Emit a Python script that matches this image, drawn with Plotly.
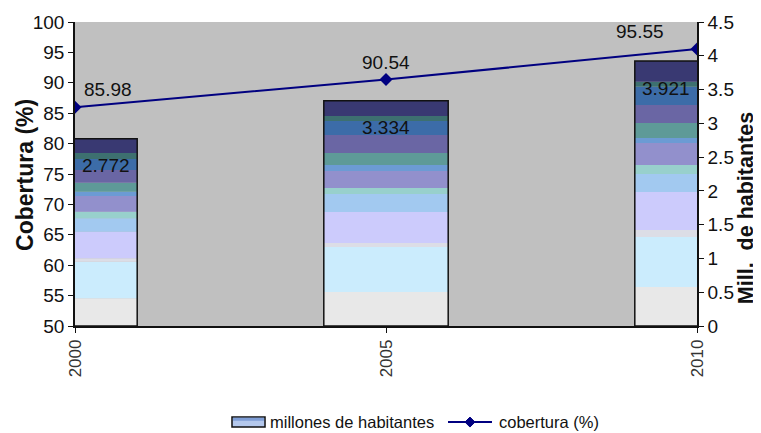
import numpy as np
import plotly.graph_objects as go

# ---------------- data ----------------
years = [2000, 2005, 2010]
cobertura = [85.98, 90.54, 95.55]
habitantes_total = [2.772, 3.334, 3.921]

# stacked bands of each bar (bottom -> top), millions
seg_2000 = [0.410, 0.542, 0.050, 0.394, 0.198, 0.098, 0.232, 0.064, 0.133, 0.188, 0.163, 0.089, 0.211]
seg_2005 = [0.503, 0.666, 0.059, 0.459, 0.266, 0.089, 0.252, 0.089, 0.178, 0.266, 0.207, 0.074, 0.226]
seg_2010 = [0.577, 0.740, 0.104, 0.562, 0.266, 0.133, 0.326, 0.074, 0.222, 0.266, 0.271, 0.074, 0.306]

seg_colors = ["#e8e8e8", "#cbecfd", "#dcdde6", "#cccbfc", "#a2c9f0", "#98d0cc", "#9290cc",
              "#6c9bd4", "#5e9a98", "#6a66a4", "#3c6ca8", "#3d7070", "#393972"]

legend_names = ["millones de habitantes", "cobertura (%)"]
title_left = "Cobertura (%)"
title_right = "Mill.  de habitantes"

FONT = "Liberation Sans, Arial, sans-serif"
BAR_W = 2.0
X_RANGE = [2000, 2010]
LINE_COLOR = "#000080"

segs = np.array([seg_2000, seg_2005, seg_2010])  # shape (years, bands)
bases = np.cumsum(segs, axis=1) - segs

fig = go.Figure()

for k, col in enumerate(seg_colors):
    fig.add_trace(go.Bar(
        x=years, y=segs[:, k], base=bases[:, k], width=BAR_W,
        marker=dict(color=col, line=dict(width=0)),
        showlegend=False, hoverinfo="skip", yaxis="y", name=legend_names[0]))

# outline of whole bar
fig.add_trace(go.Bar(
    x=years, y=habitantes_total, base=[0] * len(years), width=BAR_W,
    marker=dict(color="rgba(0,0,0,0)", line=dict(color="#111111", width=1.5)),
    showlegend=False, name=legend_names[0], yaxis="y"))

fig.add_trace(go.Scatter(
    x=years, y=cobertura, name=legend_names[1], mode="lines+markers",
    line=dict(color=LINE_COLOR, width=2),
    marker=dict(symbol="diamond", size=10, color=LINE_COLOR),
    showlegend=False, yaxis="y2"))

annotations = []
# bar total labels, centred in the visible part of each bar
for x, t in zip(years, habitantes_total):
    lo = max(x - BAR_W / 2, X_RANGE[0])
    hi = min(x + BAR_W / 2, X_RANGE[1])
    annotations.append(dict(
        x=(lo + hi) / 2, y=t, xref="x", yref="y", text=f"{t:.3f}",
        showarrow=False, yshift=-27, yanchor="middle",
        font=dict(family=FONT, size=19, color="#111111")))

# line value labels
n = len(years)
for i, (x, v) in enumerate(zip(years, cobertura)):
    if i == 0:
        xa, xs = "left", 7
    elif i == n - 1:
        xa, xs = "right", -31
    else:
        xa, xs = "center", 0
    annotations.append(dict(
        x=x, y=v, xref="x", yref="y2", text=f"{v:.2f}", showarrow=False,
        xanchor=xa, xshift=xs, yanchor="bottom", yshift=5,
        font=dict(family=FONT, size=19, color="#111111")))

# axis titles
annotations += [
    dict(x=-0.0804, y=0.497, xref="paper", yref="paper", text=f"<b>{title_left}</b>",
         textangle=-90, showarrow=False, xanchor="center", yanchor="middle",
         font=dict(family=FONT, size=23, color="#111111")),
    dict(x=1.0790, y=0.388, xref="paper", yref="paper", text=f"<b>{title_right}</b>",
         textangle=-90, showarrow=False, xanchor="center", yanchor="middle",
         font=dict(family=FONT, size=21.5, color="#111111")),
]

# ---- legend (drawn below the plot area) ----
LEG_Y = -0.316
annotations += [
    dict(x=0.3103, y=LEG_Y, xref="paper", yref="paper", text=legend_names[0],
         showarrow=False, xanchor="left", yanchor="middle",
         font=dict(family=FONT, size=16.5, color="#111111")),
    dict(x=0.6785, y=LEG_Y, xref="paper", yref="paper", text=legend_names[1],
         showarrow=False, xanchor="left", yanchor="middle",
         font=dict(family=FONT, size=16.5, color="#111111")),
]
shapes = [
    dict(type="rect", xref="paper", yref="paper", x0=0.2524, x1=0.3055,
         y0=LEG_Y - 0.016, y1=LEG_Y + 0.017,
         fillcolor="#b4c8ec", line=dict(color="#111111", width=1.5)),
    dict(type="rect", xref="paper", yref="paper", x0=0.2540, x1=0.3039,
         y0=LEG_Y + 0.004, y1=LEG_Y + 0.014,
         fillcolor="#7f9ed6", line=dict(width=0)),
    dict(type="line", xref="paper", yref="paper", x0=0.5997, x1=0.6704,
         y0=LEG_Y, y1=LEG_Y, line=dict(color=LINE_COLOR, width=2)),
    dict(type="path", xref="paper", yref="paper", xsizemode="pixel", ysizemode="pixel",
         xanchor=0.635, yanchor=LEG_Y, path="M -5 0 L 0 5 L 5 0 L 0 -5 Z",
         fillcolor=LINE_COLOR, line=dict(color=LINE_COLOR, width=1)),
]

fig.update_layout(
    width=753, height=425,
    margin=dict(l=67, r=64, t=14, b=107),
    paper_bgcolor="white", plot_bgcolor="#c0c0c0",
    barmode="overlay", showlegend=False,
    font=dict(family=FONT, size=19, color="#111111"),
    xaxis=dict(range=X_RANGE, tickvals=years, ticktext=[str(y) for y in years],
               tickangle=-90, showline=True, linecolor="#111111", linewidth=1.5,
               ticks="outside", ticklen=5, tickcolor="#111111", showgrid=False,
               zeroline=False, tickfont=dict(size=17, color="#333333"), automargin=False),
    yaxis=dict(side="right", range=[0, 4.5], dtick=0.5, showgrid=False, zeroline=False,
               showline=True, linecolor="#111111", linewidth=1.5, ticks="outside",
               ticklen=5, tickcolor="#111111", tickfont=dict(size=19), automargin=False),
    yaxis2=dict(overlaying="y", side="left", range=[50, 100], dtick=5, showgrid=False,
                zeroline=False, showline=True, linecolor="#111111", linewidth=1.5,
                ticks="outside", ticklen=5, tickcolor="#111111", tickfont=dict(size=19),
                automargin=False),
    annotations=annotations,
    shapes=shapes,
)

fig.write_html("out.html")
